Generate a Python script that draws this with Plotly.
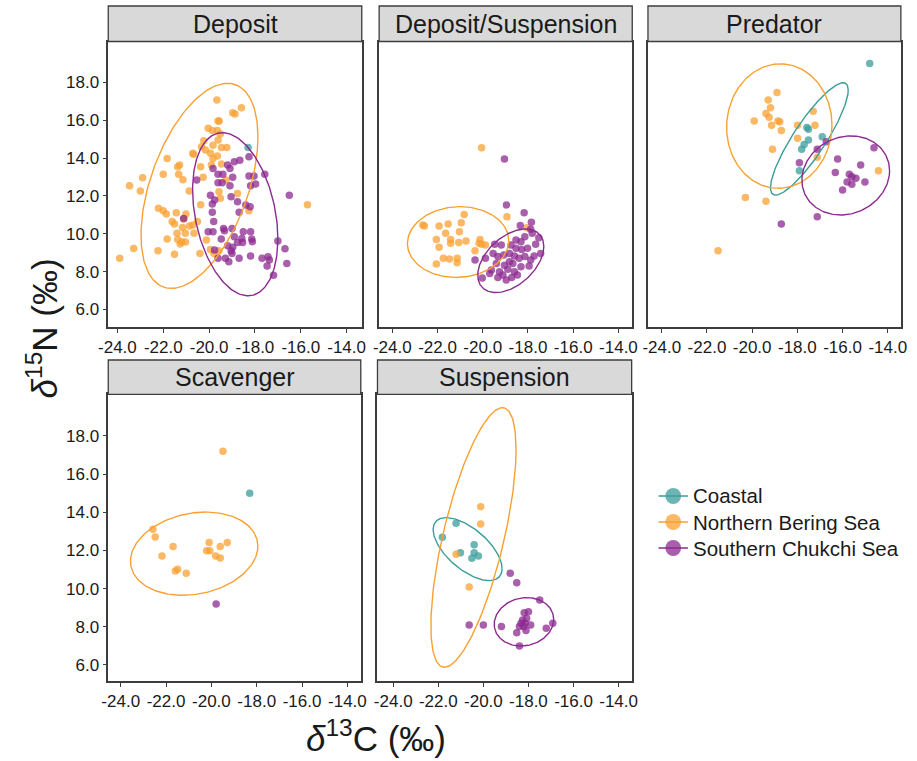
import numpy as np
import plotly.graph_objects as go

# ---------------------------------------------------------------------------
# Stable isotope values (d13C, d15N) by feeding guild and region
# ---------------------------------------------------------------------------
GROUPS = ["Coastal", "Northern Bering Sea", "Southern Chukchi Sea"]
COLORS = ["#3a9e9b", "#f9a031", "#8c2a8f"]
FACETS = ["Deposit", "Deposit/Suspension", "Predator", "Scavenger", "Suspension"]

x_ticks = [-24, -22, -20, -18, -16, -14]
x_tick_text = ["-24.0", "-22.0", "-20.0", "-18.0", "-16.0", "-14.0"]
y_ticks = [6, 8, 10, 12, 14, 16, 18]
y_tick_text = ["6.0", "8.0", "10.0", "12.0", "14.0", "16.0", "18.0"]

# Deposit
deposit_cst_c = [-18.3]
deposit_cst_n = [14.56]
deposit_nbs_c = [-19.66, -18.97, -18.59, -18.87, -19.61, -19.56, -20.04, -19.86, -19.64, -19.51,
                 -19.61, -20.23, -19.83, -19.46, -19.23, -20.33, -20.71, -20.16, -19.94, -20.68,
                 -21.83, -19.83, -19.64, -19.46, -19.90, -21.29, -21.37, -20.37, -22.00, -21.33,
                 -21.14, -22.90, -23.47, -23.00, -20.26, -19.26, -20.87, -19.57, -18.76, -19.51,
                 -20.37, -22.21, -22.00, -21.43, -21.87, -21.01, -21.11, -20.51, -21.61, -21.51,
                 -20.86, -21.16, -20.71, -21.40, -21.04, -20.66, -21.83, -21.37, -21.19, -21.03,
                 -21.26, -23.29, -22.23, -21.51, -20.40, -19.94, -19.57, -23.90, -18.26, -15.71,
                 -20.12, -19.79]
deposit_nbs_n = [17.07, 16.40, 16.66, 16.33, 15.96, 15.96, 15.57, 15.45, 15.45, 15.27,
                 14.95, 14.92, 14.67, 14.56, 14.56, 14.60, 14.25, 14.42, 14.25, 14.20,
                 13.97, 13.98, 14.11, 13.68, 13.63, 13.63, 13.54, 13.54, 13.14, 13.14,
                 12.85, 12.96, 12.54, 12.26, 12.98, 12.84, 12.26, 12.22, 12.13, 11.87,
                 11.53, 11.34, 11.22, 11.11, 11.04, 11.04, 10.78, 10.64, 10.64, 10.51,
                 10.41, 10.33, 10.46, 10.02, 10.02, 10.02, 9.72, 9.70, 9.58, 9.56,
                 9.46, 9.22, 9.10, 8.91, 8.96, 9.17, 9.10, 8.71, 11.22, 11.53,
                 9.67, 8.96]
deposit_scs_c = [-21.11, -19.83, -19.19, -18.90, -18.66, -18.26, -19.09, -19.61, -19.40, -18.97,
                 -18.26, -18.04, -17.57, -20.54, -19.61, -19.43, -19.09, -18.19, -17.97, -19.94,
                 -19.04, -19.76, -19.86, -18.76, -18.40, -18.21, -18.69, -19.86, -19.80, -16.50,
                 -19.37, -19.33, -19.00, -20.04, -19.83, -18.51, -18.19, -19.47, -18.90, -18.57,
                 -18.14, -19.76, -19.19, -18.97, -18.76, -18.54, -18.11, -17.00, -19.04, -19.61,
                 -19.29, -19.14, -18.69, -18.19, -17.69, -17.43, -17.37, -17.47, -16.69, -16.61,
                 -17.19, -19.00]
deposit_scs_n = [10.81, 13.45, 13.63, 13.81, 13.89, 14.07, 13.45, 13.15, 13.15, 12.98,
                 13.05, 13.05, 13.14, 12.84, 12.70, 12.70, 12.54, 12.54, 12.63, 12.04,
                 11.96, 11.78, 11.57, 11.69, 11.52, 11.43, 11.13, 11.13, 10.64, 12.04,
                 10.28, 10.16, 10.28, 10.11, 10.11, 10.11, 10.11, 9.72, 9.84, 9.75,
                 9.72, 9.14, 9.37, 9.28, 9.53, 9.53, 9.58, 9.61, 9.10, 8.70,
                 8.70, 8.52, 8.70, 8.82, 8.70, 8.78, 8.61, 8.29, 9.21, 8.43,
                 7.80, 8.96]

# Deposit/Suspension
depsus_nbs_c = [-20.05, -18.93, -20.82, -22.65, -22.58, -21.93, -21.53, -20.95, -21.64, -21.03,
                -22.05, -21.42, -20.74, -21.06, -21.93, -21.42, -20.12, -20.16, -20.05, -20.34,
                -19.88, -21.74, -21.47, -21.13, -21.13, -22.05, -18.05]
depsus_nbs_n = [14.55, 10.90, 11.02, 10.46, 10.41, 10.41, 10.51, 10.58, 10.02, 10.11,
                9.70, 9.70, 9.61, 9.53, 9.28, 9.49, 9.70, 9.49, 9.45, 9.10,
                9.40, 8.70, 8.66, 8.70, 8.47, 8.40, 10.31]
depsus_scs_c = [-19.04, -18.95, -18.17, -17.85, -18.34, -17.88, -18.14, -17.81, -17.52, -19.47,
                -19.18, -18.75, -18.53, -18.28, -18.02, -17.66, -17.44, -19.54, -19.33, -19.07,
                -18.82, -18.60, -18.39, -18.14, -17.88, -17.73, -20.34, -19.88, -19.40, -19.04,
                -18.67, -18.31, -17.95, -19.62, -19.26, -18.89, -18.60, -19.69, -19.33, -18.96,
                -18.72, -20.02, -18.47, -19.11, -18.82, -18.53, -18.31]
depsus_scs_n = [13.95, 11.52, 11.11, 10.60, 10.43, 10.23, 9.84, 10.02, 9.79, 9.45,
                9.40, 9.40, 9.23, 9.17, 9.23, 9.45, 8.96, 8.96, 8.79, 8.87,
                8.96, 8.82, 8.70, 8.79, 8.61, 8.82, 8.61, 8.70, 8.43, 8.34,
                8.43, 8.26, 8.29, 8.08, 7.99, 8.12, 7.99, 7.90, 7.69, 7.55,
                7.69, 7.66, 7.82, 7.82, 8.52, 9.67, 9.58]

# Predator
pred_cst_c = [-14.80, -17.58, -17.51, -16.90, -17.51, -17.70, -17.81, -17.91]
pred_cst_n = [19.00, 15.62, 15.52, 15.13, 14.95, 14.72, 14.46, 13.33]
pred_nbs_c = [-18.90, -19.29, -19.19, -19.39, -19.25, -19.91, -19.14, -18.86, -18.78, -18.71,
              -17.30, -17.22, -17.99, -17.99, -19.10, -17.12, -14.41, -20.30, -19.39, -21.51]
pred_nbs_n = [17.47, 17.07, 16.66, 16.36, 16.15, 15.96, 15.73, 15.96, 15.92, 15.45,
              16.47, 15.73, 15.73, 15.04, 14.46, 14.04, 13.33, 11.92, 11.71, 9.10]
pred_scs_c = [-16.72, -17.12, -17.91, -14.61, -16.22, -15.20, -16.32, -15.70, -15.59, -15.41,
              -15.01, -15.80, -15.59, -16.00, -17.12, -18.71]
pred_scs_n = [14.86, 14.46, 13.75, 14.55, 13.95, 13.63, 13.23, 13.14, 13.01, 12.93,
              12.73, 12.73, 12.61, 12.31, 10.90, 10.51]

# Scavenger
scav_cst_c = [-18.31]
scav_cst_n = [14.99]
scav_nbs_c = [-19.49, -22.58, -22.48, -21.69, -22.18, -20.10, -20.21, -20.07, -19.61, -19.30,
              -19.81, -19.61, -21.59, -21.49, -21.11]
scav_nbs_n = [17.19, 13.11, 12.71, 12.20, 11.71, 12.41, 11.99, 11.99, 12.20, 12.41,
              11.71, 11.60, 10.92, 11.01, 10.80]
scav_scs_c = [-19.79]
scav_scs_n = [9.19]

# Suspension
susp_cst_c = [-21.21, -21.82, -20.41, -21.02, -20.41, -20.51, -20.22]
susp_cst_n = [13.42, 12.69, 12.30, 11.88, 11.88, 11.59, 11.71]
susp_nbs_c = [-20.12, -20.12, -21.21, -20.63]
susp_nbs_n = [14.29, 13.39, 11.80, 10.09]
susp_scs_c = [-18.81, -18.52, -17.50, -20.63, -20.00, -19.20, -18.19, -18.00, -18.26, -18.33,
              -18.15, -18.08, -17.90, -18.40, -18.52, -18.11, -17.21, -16.92, -18.40, -18.21]
susp_scs_n = [10.80, 10.31, 9.40, 8.09, 8.09, 8.01, 8.74, 8.79, 8.36, 8.18,
              8.18, 8.44, 8.09, 8.01, 7.69, 7.80, 7.92, 8.18, 6.99, 8.01]

# 95% ellipses: centre (d13C, d15N), half-extent in d13C and d15N, correlation
ell_deposit_nbs = [-20.42, 12.53, 2.55, 5.42, 0.48]
ell_deposit_scs = [-18.86, 11.03, 1.86, 4.31, -0.30]
ell_depsus_nbs = [-21.09, 9.56, 2.24, 1.87, 0.04]
ell_depsus_scs = [-18.76, 8.57, 1.46, 1.68, 0.45]
ell_pred_cst = [-17.47, 15.01, 1.72, 2.97, 0.87]
ell_pred_nbs = [-18.80, 15.69, 2.33, 3.29, 0.02]
ell_pred_scs = [-15.86, 13.08, 1.94, 2.09, 0.12]
ell_scav_nbs = [-20.76, 11.83, 2.81, 2.18, 0.18]
ell_susp_cst = [-20.70, 12.07, 1.53, 1.65, -0.62]
ell_susp_nbs = [-20.44, 12.68, 1.89, 6.80, 0.68]
ell_susp_scs = [-18.20, 8.26, 1.32, 1.27, 0.10]

points = {
    "Deposit": [(deposit_cst_c, deposit_cst_n), (deposit_nbs_c, deposit_nbs_n), (deposit_scs_c, deposit_scs_n)],
    "Deposit/Suspension": [None, (depsus_nbs_c, depsus_nbs_n), (depsus_scs_c, depsus_scs_n)],
    "Predator": [(pred_cst_c, pred_cst_n), (pred_nbs_c, pred_nbs_n), (pred_scs_c, pred_scs_n)],
    "Scavenger": [(scav_cst_c, scav_cst_n), (scav_nbs_c, scav_nbs_n), (scav_scs_c, scav_scs_n)],
    "Suspension": [(susp_cst_c, susp_cst_n), (susp_nbs_c, susp_nbs_n), (susp_scs_c, susp_scs_n)],
}
ellipses = {
    "Deposit": [None, ell_deposit_nbs, ell_deposit_scs],
    "Deposit/Suspension": [None, ell_depsus_nbs, ell_depsus_scs],
    "Predator": [ell_pred_cst, ell_pred_nbs, ell_pred_scs],
    "Scavenger": [None, ell_scav_nbs, None],
    "Suspension": [ell_susp_cst, ell_susp_nbs, ell_susp_scs],
}

# ---------------------------------------------------------------------------
# Panel geometry (paper fractions) and axis ranges
# ---------------------------------------------------------------------------
W, H = 917, 761
px_x = [(100, 358), (375.7, 633.3), (649.3, 906.7), (100, 357), (374, 632.7)]
px_y = [(41.5, 327)] * 3 + [(394.3, 681)] * 2
strip_y = [(6, 41.5)] * 3 + [(360, 394.3)] * 2
x_ranges = [[-24.40, -13.34], [-24.58, -13.39], [-24.61, -13.42], [-24.55, -13.41], [-24.70, -13.42]]
y_ranges = [[5.07, 20.16]] * 3 + [[5.16, 20.18]] * 2
show_y_labels = [True, False, False, True, False]

FONT = "Liberation Sans, Arial, sans-serif"
INK = "#1a1a1a"
FRAME = "#3d3d3d"


def ellipse_path(params, n=200):
    cx, cy, sx, sy, rho = params
    t = np.linspace(0, 2 * np.pi, n)
    x = cx + sx * np.cos(t)
    y = cy + sy * (rho * np.cos(t) + np.sqrt(1 - rho ** 2) * np.sin(t))
    return x, y


fig = go.Figure()
layout = dict(
    width=W, height=H, margin=dict(l=0, r=0, t=0, b=0),
    paper_bgcolor="white", plot_bgcolor="white",
    font=dict(family=FONT, color=INK),
    shapes=[], annotations=[], showlegend=False,
)

for i, facet in enumerate(FACETS):
    k = "" if i == 0 else str(i + 1)
    xa, ya = "x" + k, "y" + k
    x0, x1 = px_x[i]
    y0, y1 = px_y[i]
    layout["xaxis" + k] = dict(
        domain=[x0 / W, x1 / W], range=x_ranges[i], anchor=ya,
        tickvals=x_ticks, ticktext=x_tick_text, ticks="outside", ticklen=4,
        tickcolor=FRAME, tickwidth=1.2, showgrid=False, zeroline=False,
        showline=True, mirror=True, linecolor=FRAME, linewidth=1.5,
        tickfont=dict(size=17, color=INK, family=FONT),
    )
    layout["yaxis" + k] = dict(
        domain=[1 - y1 / H, 1 - y0 / H], range=y_ranges[i], anchor=xa,
        tickvals=y_ticks, ticktext=y_tick_text,
        ticks="outside" if show_y_labels[i] else "", ticklen=4,
        showticklabels=show_y_labels[i],
        tickcolor=FRAME, tickwidth=1.2, showgrid=False, zeroline=False,
        showline=True, mirror=True, linecolor=FRAME, linewidth=1.5,
        tickfont=dict(size=17, color=INK, family=FONT),
    )
    # facet strip
    sy0, sy1 = strip_y[i]
    layout["shapes"].append(dict(
        type="rect", xref="paper", yref="paper",
        x0=x0 / W, x1=x1 / W, y0=1 - sy1 / H, y1=1 - sy0 / H,
        fillcolor="#d9d9d9", line=dict(color=FRAME, width=1.3), layer="above",
    ))
    layout["annotations"].append(dict(
        text=facet, xref="paper", yref="paper",
        x=(x0 + x1) / 2 / W, y=1 - (sy0 + sy1) / 2 / H,
        xanchor="center", yanchor="middle", showarrow=False,
        font=dict(size=25, color=INK, family=FONT),
    ))

    for g, group in enumerate(GROUPS):
        pts = points[facet][g]
        if pts is not None:
            fig.add_trace(go.Scatter(
                x=pts[0], y=pts[1], mode="markers", xaxis=xa, yaxis=ya, name=group,
                marker=dict(size=7.5, color=COLORS[g], opacity=0.75, line=dict(width=0)),
                hoverinfo="skip",
            ))
    for g, group in enumerate(GROUPS):
        ep = ellipses[facet][g]
        if ep is not None:
            ex, ey = ellipse_path(ep)
            fig.add_trace(go.Scatter(
                x=ex, y=ey, mode="lines", xaxis=xa, yaxis=ya, name=group,
                line=dict(color=COLORS[g], width=1.4),
                hoverinfo="skip",
            ))

# region key: a point over a short line segment, with its label
key_rows = [496, 522, 548]
for g, group in enumerate(GROUPS):
    yc = 1 - key_rows[g] / H
    layout["shapes"].append(dict(
        type="line", xref="paper", yref="paper",
        x0=660 / W, x1=690 / W, y0=yc, y1=yc,
        line=dict(color=COLORS[g], width=1.5),
    ))
    layout["shapes"].append(dict(
        type="circle", xref="paper", yref="paper",
        x0=(675 - 8) / W, x1=(675 + 8) / W,
        y0=yc - 8 / H, y1=yc + 8 / H,
        fillcolor=COLORS[g], opacity=0.75, line=dict(width=0),
    ))
    layout["annotations"].append(dict(
        text=group, xref="paper", yref="paper",
        x=693 / W, y=yc, xanchor="left", yanchor="middle", showarrow=False,
        font=dict(size=20.5, color=INK, family=FONT),
    ))

# axis titles
layout["annotations"].append(dict(
    text="<i>δ</i><sup>13</sup>C (‰)", xref="paper", yref="paper",
    x=372 / W, y=1 - 736 / H, xanchor="center", yanchor="middle", showarrow=False,
    font=dict(size=35, color=INK, family=FONT),
))
layout["annotations"].append(dict(
    text="<i>δ</i><sup>15</sup>N (‰)", xref="paper", yref="paper",
    x=33 / W, y=1 - 328 / H, xanchor="center", yanchor="middle", showarrow=False,
    textangle=-90, font=dict(size=35, color=INK, family=FONT),
))

fig.update_layout(**layout)
fig.write_html("out.html")
